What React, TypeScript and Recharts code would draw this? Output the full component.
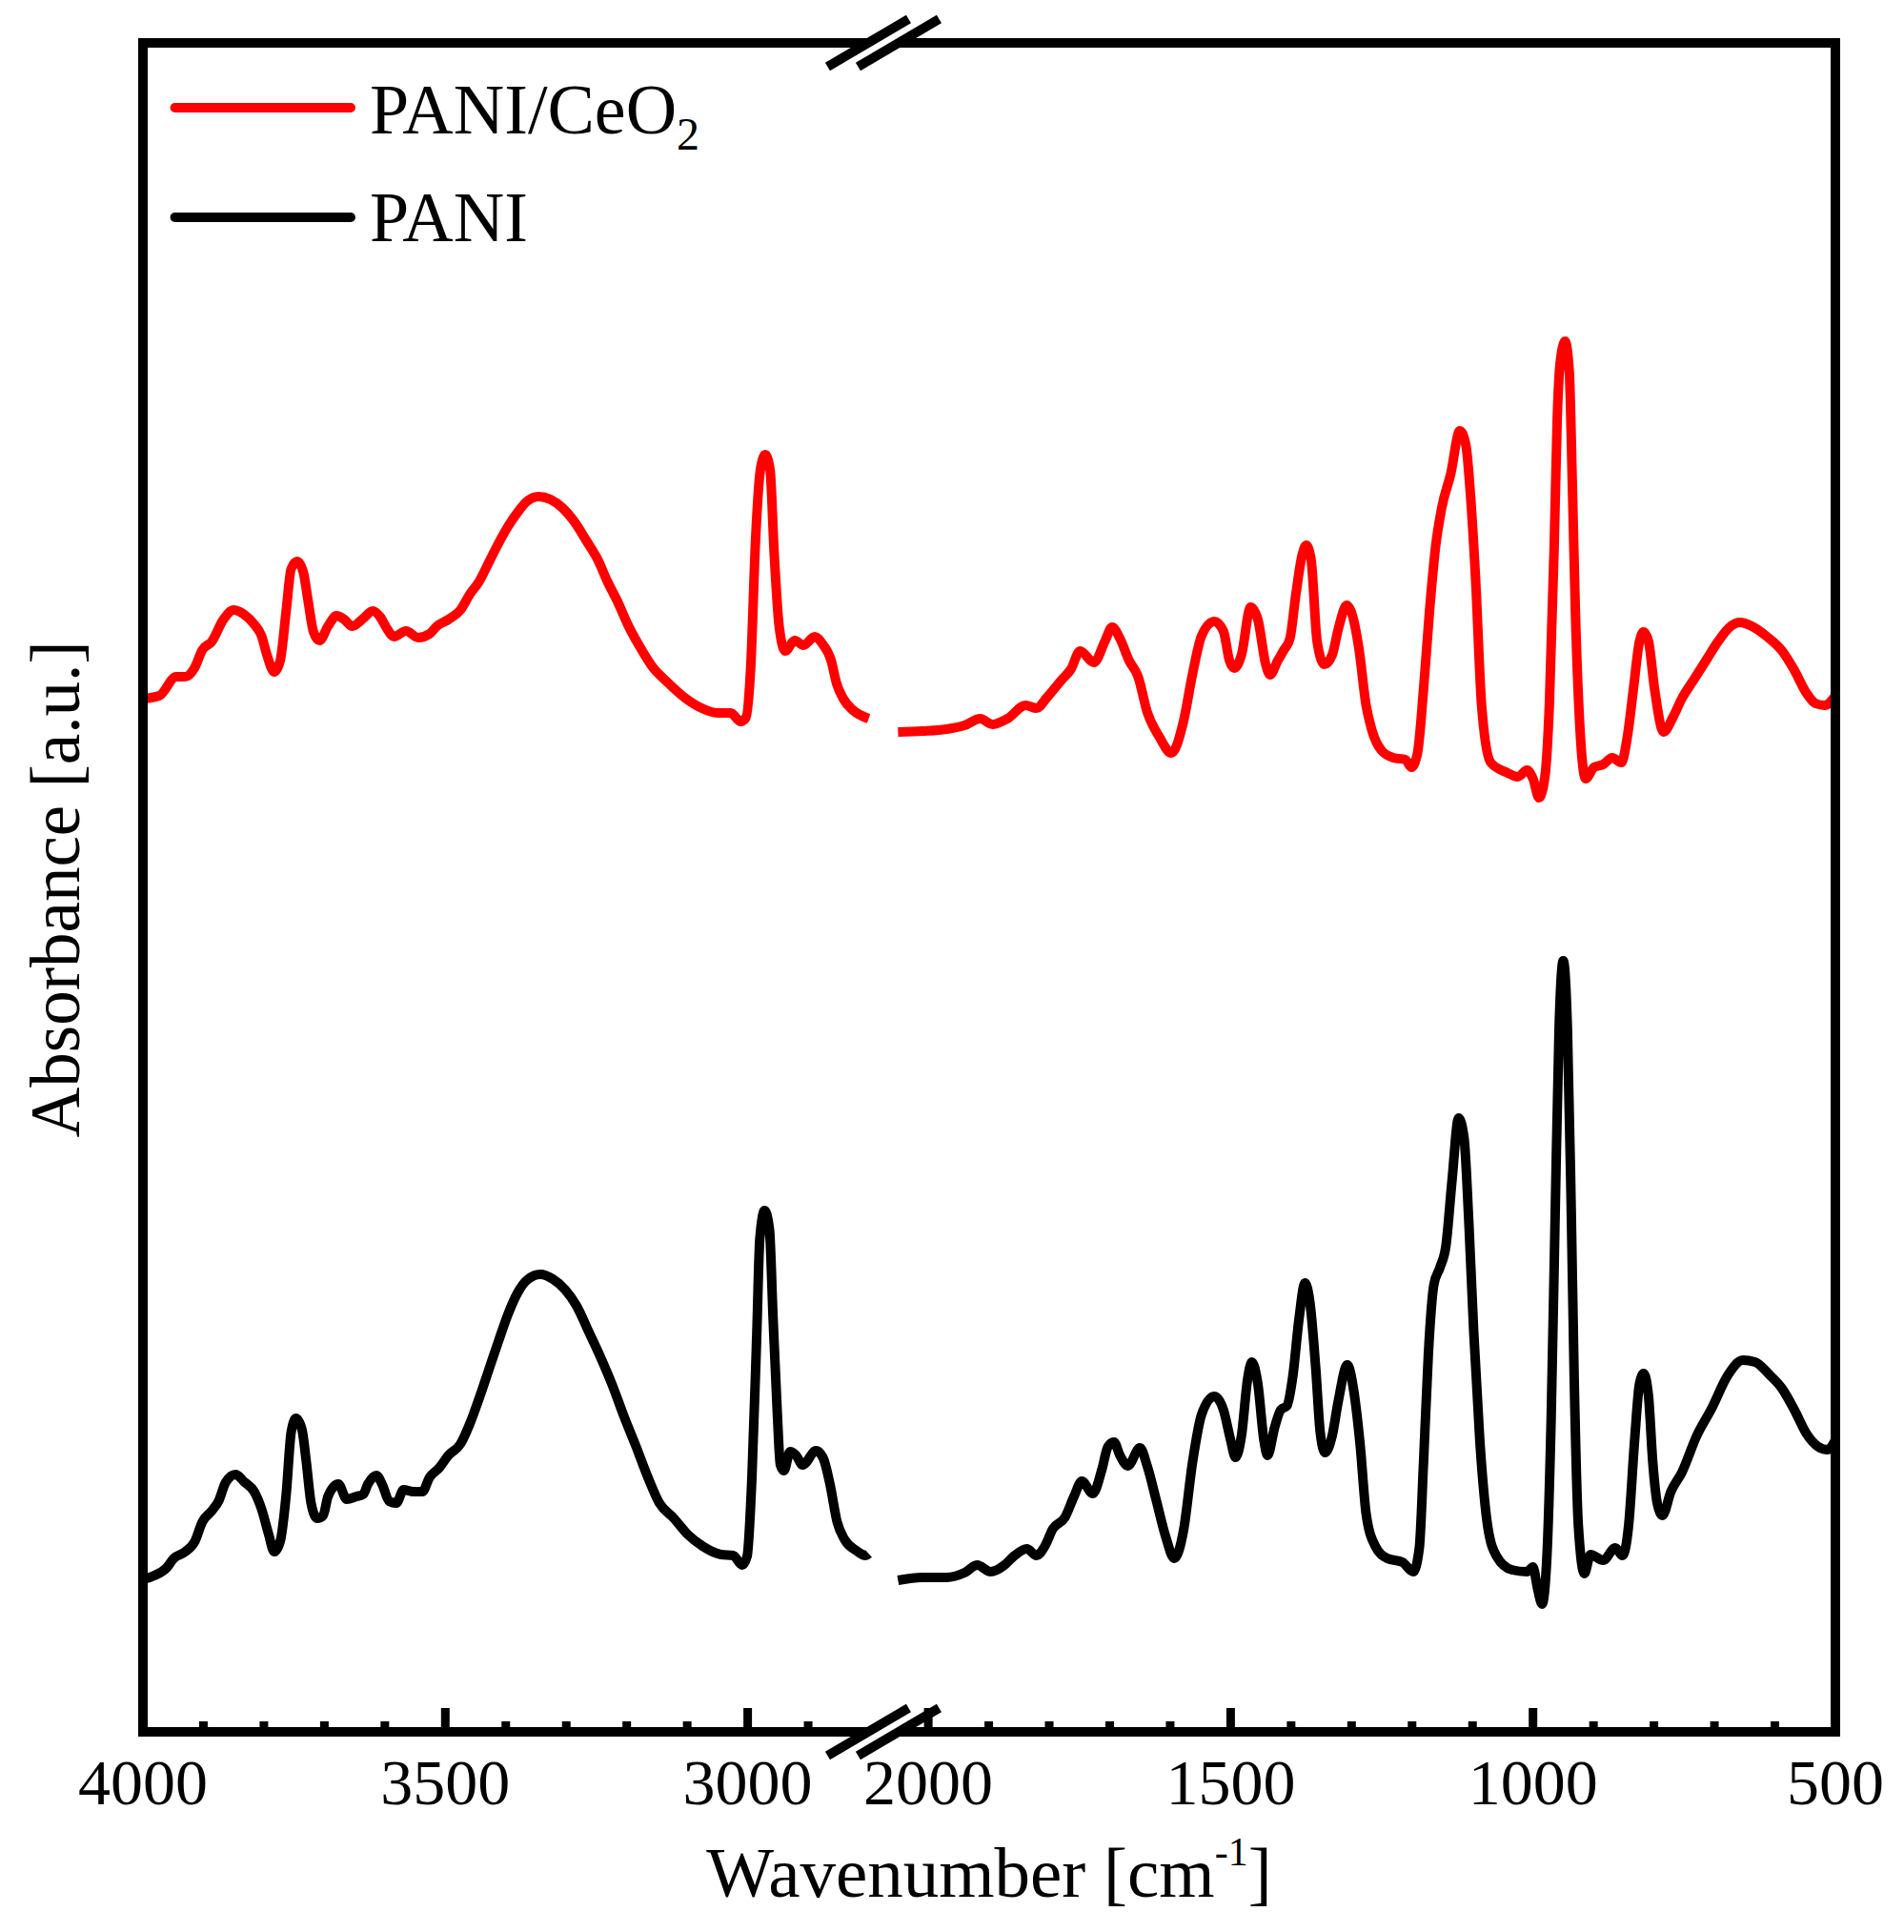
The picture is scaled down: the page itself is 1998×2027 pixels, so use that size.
import React from 'react';
import { LineChart, Line, XAxis, YAxis, ReferenceDot, Legend } from 'recharts';

// [wavenumber (cm-1), absorbance (a.u.)]
const PANI_CEO2: Array<[number, number]> = [
  [4000, 1.084], [3973, 1.087], [3945, 1.107], [3930, 1.107], [3914, 1.117], [3902, 1.135], [3886, 1.144],
  [3867, 1.167], [3850, 1.177], [3832, 1.172], [3816, 1.162], [3804, 1.150], [3795, 1.130], [3783, 1.112],
  [3773, 1.124], [3763, 1.177], [3755, 1.220], [3745, 1.228], [3735, 1.217], [3727, 1.187], [3718, 1.154],
  [3708, 1.145], [3694, 1.160], [3680, 1.171], [3667, 1.167], [3654, 1.160], [3636, 1.168], [3620, 1.176],
  [3608, 1.170], [3596, 1.157], [3585, 1.149], [3565, 1.155], [3545, 1.148], [3526, 1.152], [3514, 1.160],
  [3495, 1.167], [3475, 1.177], [3459, 1.194], [3444, 1.207], [3428, 1.227], [3412, 1.247], [3397, 1.264],
  [3381, 1.279], [3365, 1.291], [3346, 1.296], [3326, 1.293], [3306, 1.284], [3287, 1.270], [3267, 1.250],
  [3248, 1.230], [3232, 1.207], [3216, 1.187], [3197, 1.160], [3177, 1.137], [3157, 1.117], [3134, 1.102],
  [3102, 1.084], [3076, 1.074], [3050, 1.069], [3028, 1.069], [3012, 1.060], [3003, 1.064], [2995, 1.117],
  [2987, 1.250], [2979, 1.324], [2971, 1.340], [2963, 1.324], [2956, 1.234], [2948, 1.160], [2938, 1.134],
  [2922, 1.145], [2908, 1.140], [2889, 1.149], [2877, 1.142], [2862, 1.124], [2853, 1.100], [2842, 1.084],
  [2826, 1.072], [2800, 1.063],
  [2050, 1.049], [2010, 1.050], [1970, 1.052], [1940, 1.056], [1914, 1.063], [1894, 1.057], [1869, 1.063],
  [1839, 1.077], [1821, 1.074], [1804, 1.085], [1779, 1.104], [1764, 1.115], [1749, 1.134], [1726, 1.122],
  [1708, 1.144], [1696, 1.159], [1683, 1.147], [1668, 1.124], [1653, 1.107], [1638, 1.070], [1618, 1.044],
  [1598, 1.027], [1578, 1.060], [1563, 1.110], [1548, 1.150], [1527, 1.165], [1512, 1.155], [1502, 1.124],
  [1494, 1.116], [1482, 1.130], [1467, 1.180], [1455, 1.167], [1442, 1.120], [1435, 1.109], [1422, 1.124],
  [1412, 1.135], [1402, 1.147], [1392, 1.194], [1382, 1.234], [1375, 1.245], [1367, 1.230], [1357, 1.144],
  [1345, 1.120], [1332, 1.130], [1322, 1.157], [1308, 1.182], [1298, 1.170], [1288, 1.137], [1276, 1.077],
  [1266, 1.050], [1251, 1.030], [1231, 1.022], [1211, 1.020], [1201, 1.012], [1191, 1.027], [1181, 1.094],
  [1171, 1.177], [1161, 1.244], [1151, 1.284], [1136, 1.320], [1121, 1.365], [1111, 1.350], [1103, 1.294],
  [1095, 1.210], [1085, 1.077], [1070, 1.017], [1045, 1.007], [1025, 1.002], [1010, 1.009], [1000, 1.000],
  [990, 0.980], [980, 1.004], [973, 1.077], [965, 1.244], [960, 1.377], [955, 1.437], [947, 1.459],
  [940, 1.427], [935, 1.310], [930, 1.177], [923, 1.060], [913, 1.000], [899, 1.012], [884, 1.015],
  [869, 1.022], [854, 1.017], [844, 1.044], [834, 1.094], [824, 1.144], [817, 1.154], [809, 1.144],
  [799, 1.094], [784, 1.049], [769, 1.064], [754, 1.084], [734, 1.104], [714, 1.124], [694, 1.144],
  [673, 1.160], [658, 1.164], [638, 1.160], [613, 1.149], [588, 1.134], [568, 1.114], [548, 1.090],
  [533, 1.079], [518, 1.077], [500, 1.087],
];

const PANI: Array<[number, number]> = [
  [4000, 0.160], [3981, 0.164], [3961, 0.172], [3949, 0.182], [3930, 0.189], [3914, 0.200], [3902, 0.220],
  [3886, 0.232], [3875, 0.242], [3863, 0.262], [3847, 0.270], [3832, 0.262], [3816, 0.252], [3804, 0.234],
  [3792, 0.207], [3783, 0.189], [3773, 0.200], [3763, 0.250], [3755, 0.314], [3747, 0.329], [3737, 0.317],
  [3730, 0.284], [3722, 0.240], [3712, 0.224], [3702, 0.227], [3694, 0.247], [3677, 0.260], [3663, 0.244],
  [3647, 0.247], [3636, 0.249], [3628, 0.260], [3614, 0.269], [3604, 0.259], [3593, 0.242], [3581, 0.240],
  [3569, 0.254], [3553, 0.252], [3538, 0.252], [3526, 0.267], [3510, 0.277], [3495, 0.290], [3475, 0.302],
  [3459, 0.324], [3444, 0.350], [3428, 0.380], [3412, 0.410], [3397, 0.437], [3381, 0.460], [3365, 0.474],
  [3343, 0.480], [3322, 0.475], [3302, 0.464], [3283, 0.447], [3263, 0.420], [3244, 0.394], [3224, 0.364],
  [3204, 0.330], [3185, 0.300], [3165, 0.267], [3146, 0.240], [3122, 0.224], [3099, 0.207], [3075, 0.195],
  [3044, 0.186], [3024, 0.185], [3009, 0.175], [3001, 0.184], [2993, 0.267], [2985, 0.417], [2980, 0.517],
  [2972, 0.547], [2964, 0.527], [2958, 0.434], [2951, 0.334], [2946, 0.280], [2940, 0.274], [2930, 0.294],
  [2920, 0.290], [2909, 0.280], [2887, 0.295], [2875, 0.287], [2864, 0.260], [2852, 0.220], [2840, 0.202],
  [2820, 0.190], [2805, 0.185], [2800, 0.187],
  [2050, 0.159], [2010, 0.162], [1970, 0.162], [1940, 0.167], [1919, 0.175], [1897, 0.168], [1874, 0.175],
  [1859, 0.184], [1837, 0.192], [1821, 0.185], [1807, 0.195], [1794, 0.213], [1774, 0.225], [1759, 0.247],
  [1746, 0.263], [1728, 0.250], [1713, 0.275], [1703, 0.299], [1693, 0.304], [1683, 0.290], [1670, 0.279],
  [1650, 0.298], [1638, 0.279], [1623, 0.243], [1608, 0.206], [1593, 0.182], [1578, 0.211], [1563, 0.283],
  [1548, 0.333], [1527, 0.352], [1512, 0.338], [1500, 0.306], [1492, 0.288], [1482, 0.311], [1472, 0.370],
  [1465, 0.388], [1455, 0.365], [1445, 0.306], [1439, 0.290], [1427, 0.320], [1417, 0.338], [1407, 0.342],
  [1397, 0.374], [1387, 0.433], [1377, 0.471], [1369, 0.451], [1359, 0.379], [1352, 0.315], [1344, 0.293],
  [1332, 0.311], [1322, 0.347], [1307, 0.385], [1296, 0.356], [1286, 0.302], [1276, 0.229], [1261, 0.195],
  [1241, 0.182], [1216, 0.178], [1198, 0.168], [1188, 0.193], [1181, 0.283], [1173, 0.397], [1164, 0.469],
  [1154, 0.487], [1144, 0.510], [1134, 0.578], [1123, 0.644], [1114, 0.623], [1106, 0.533], [1098, 0.419],
  [1088, 0.306], [1075, 0.216], [1060, 0.184], [1035, 0.170], [1010, 0.168], [1000, 0.173], [993, 0.152],
  [985, 0.134], [977, 0.184], [970, 0.329], [963, 0.555], [957, 0.736], [950, 0.809], [943, 0.736],
  [937, 0.555], [932, 0.374], [925, 0.216], [915, 0.166], [905, 0.186], [884, 0.180], [864, 0.193],
  [852, 0.185], [842, 0.216], [832, 0.306], [824, 0.365], [817, 0.376], [809, 0.352], [802, 0.283],
  [794, 0.238], [786, 0.227], [772, 0.252], [754, 0.272], [729, 0.311], [704, 0.340], [678, 0.374],
  [653, 0.390], [633, 0.388], [608, 0.374], [588, 0.360], [568, 0.338], [548, 0.313], [528, 0.299],
  [513, 0.296], [500, 0.306],
];

const MAJOR_TICKS = [4000, 3500, 3000, 2000, 1500, 1000, 500];
const MINOR_TICKS = [3900, 3800, 3700, 3600, 3400, 3300, 3200, 3100, 2900,
  1900, 1800, 1700, 1600, 1400, 1300, 1200, 1100, 900, 800, 700, 600];

const SERIES = [
  { name: 'PANI/CeO2', color: '#FF0000', points: PANI_CEO2 },
  { name: 'PANI', color: '#000000', points: PANI },
];
const SERIES_ORDER = SERIES.map((s) => s.name);

// broken wavenumber axis: 4000-2800 | 2050-500
const WN_START = 4000;
const BREAK_HIGH = 2800;
const BREAK_LOW = 2050;
const GAP = 48.6;
const Y_MAX = 1.772;

const toPos = (w: number) =>
  w >= BREAK_HIGH ? WN_START - w : (WN_START - BREAK_HIGH) + GAP + (BREAK_LOW - w);
const X_MAX = toPos(500);
const BREAK_POS = WN_START - BREAK_HIGH + GAP / 2;

const buildData = (pts: Array<[number, number]>) => {
  const out: Array<{ pos: number; v: number | null }> = [];
  pts.forEach(([w, a], i) => {
    if (i > 0 && pts[i - 1][0] >= BREAK_HIGH && w < BREAK_HIGH) {
      out.push({ pos: BREAK_POS, v: null });
    }
    out.push({ pos: toPos(w), v: a });
  });
  return out;
};

const FONT = "'Liberation Serif', 'Times New Roman', serif";
const ALL_TICKS = [...MAJOR_TICKS, ...MINOR_TICKS].map(toPos).sort((a, b) => a - b);
const majorLabel = (p: number) => MAJOR_TICKS.find((w) => Math.abs(toPos(w) - p) < 0.01);

const XTick = (props: any) => {
  const { x, y, payload } = props;
  const lab = majorLabel(payload.value);
  const isMajor = lab !== undefined;
  return (
    <g>
      <line x1={x} x2={x} y1={y} y2={y - (isMajor ? 25 : 11)} stroke="#000" strokeWidth={9} />
      {isMajor && (
        <text x={x} y={y + 76} textAnchor="middle" fontSize={68} fontFamily={FONT} fill="#000">
          {lab}
        </text>
      )}
    </g>
  );
};

const XTitle = (props: any) => {
  const vb = props.viewBox || {};
  const cx = vb.x + vb.width / 2;
  const y = vb.y + 173;
  return (
    <text x={cx} y={y} textAnchor="middle" fontSize={75} fontFamily={FONT} fill="#000">
      Wavenumber [cm
      <tspan fontSize={42} dy={-33}>-1</tspan>
      <tspan dy={33}>]</tspan>
    </text>
  );
};

const YTitle = (props: any) => {
  const vb = props.viewBox || {};
  const x = vb.x + vb.width - 67;
  const y = vb.y + vb.height / 2 + 2;
  return (
    <text x={x} y={y} transform={`rotate(-90, ${x}, ${y})`} textAnchor="middle" fontSize={73}
      fontFamily={FONT} fill="#000">
      Absorbance [a.u.]
    </text>
  );
};

const BreakMark = (props: any) => {
  const { cx, cy } = props;
  const hx = 42.5;
  const hy = 25;
  const off = 16;
  return (
    <g>
      <polygon
        points={`${cx - off - hx},${cy + hy} ${cx - off + hx},${cy - hy} ${cx + off + hx},${cy - hy} ${cx + off - hx},${cy + hy}`}
        fill="#fff"
      />
      <line x1={cx - off - hx} y1={cy + hy} x2={cx - off + hx} y2={cy - hy} stroke="#000" strokeWidth={10} />
      <line x1={cx + off - hx} y1={cy + hy} x2={cx + off + hx} y2={cy - hy} stroke="#000" strokeWidth={10} />
    </g>
  );
};

const renderName = (name: string) =>
  name.split(/(\d+)/).map((part, i) =>
    /^\d+$/.test(part) ? (
      <tspan key={i} fontSize={48} dy={17}>{part}</tspan>
    ) : (
      <tspan key={i}>{part}</tspan>
    )
  );

const LegendContent = (props: any) => {
  const payload = [...(props.payload || [])].sort(
    (a: any, b: any) => SERIES_ORDER.indexOf(String(a.value)) - SERIES_ORDER.indexOf(String(b.value))
  );
  return (
    <svg width={700} height={280} style={{ display: 'block', overflow: 'visible' }}>
      {payload.map((item: any, i: number) => (
        <g key={item.value}>
          <line x1={183.6} x2={368} y1={113 + i * 115} y2={113 + i * 115} stroke={item.color}
            strokeWidth={10} strokeLinecap="round" />
          <text x={388} y={140 + i * 113} fontSize={74} fontFamily={FONT} fill="#000">
            {renderName(String(item.value))}
          </text>
        </g>
      ))}
    </svg>
  );
};

const AXIS_LINE = { stroke: '#000', strokeWidth: 10, strokeLinecap: 'square' as const };

export default function App() {
  return (
    <div style={{ position: 'absolute', left: 0, top: 0, background: '#fff' }}>
      <LineChart width={1998} height={2027} margin={{ top: 0, right: 0, bottom: 0, left: 0 }}>
        <XAxis
          xAxisId="bottom"
          dataKey="pos"
          type="number"
          domain={[0, X_MAX]}
          ticks={ALL_TICKS}
          interval={0}
          tick={<XTick />}
          tickLine={false}
          tickSize={0}
          tickMargin={0}
          axisLine={AXIS_LINE}
          height={210}
          label={XTitle}
        />
        <XAxis
          xAxisId="top"
          orientation="top"
          type="number"
          domain={[0, X_MAX]}
          tick={false}
          tickLine={false}
          axisLine={AXIS_LINE}
          height={45}
        />
        <YAxis
          yAxisId="left"
          type="number"
          domain={[0, Y_MAX]}
          tick={false}
          tickLine={false}
          axisLine={AXIS_LINE}
          width={150}
          label={YTitle}
        />
        <YAxis
          yAxisId="right"
          orientation="right"
          type="number"
          domain={[0, Y_MAX]}
          tick={false}
          tickLine={false}
          axisLine={AXIS_LINE}
          width={72}
        />
        <Legend
          layout="vertical"
          align="center"
          verticalAlign="middle"
          itemSorter={null as any}
          wrapperStyle={{ left: 0, top: 0, width: 700, height: 280 }}
          content={<LegendContent />}
        />
        {SERIES.map((s) => (
          <Line
            key={s.name}
            name={s.name}
            data={buildData(s.points)}
            dataKey="v"
            xAxisId="bottom"
            yAxisId="left"
            type="monotone"
            stroke={s.color}
            strokeWidth={10}
            strokeLinejoin="round"
            dot={false}
            activeDot={false}
            connectNulls={false}
            isAnimationActive={false}
          />
        ))}
        <ReferenceDot xAxisId="bottom" yAxisId="left" x={BREAK_POS} y={0} ifOverflow="visible" shape={BreakMark} />
        <ReferenceDot xAxisId="bottom" yAxisId="left" x={BREAK_POS} y={Y_MAX} ifOverflow="visible" shape={BreakMark} />
      </LineChart>
    </div>
  );
}
